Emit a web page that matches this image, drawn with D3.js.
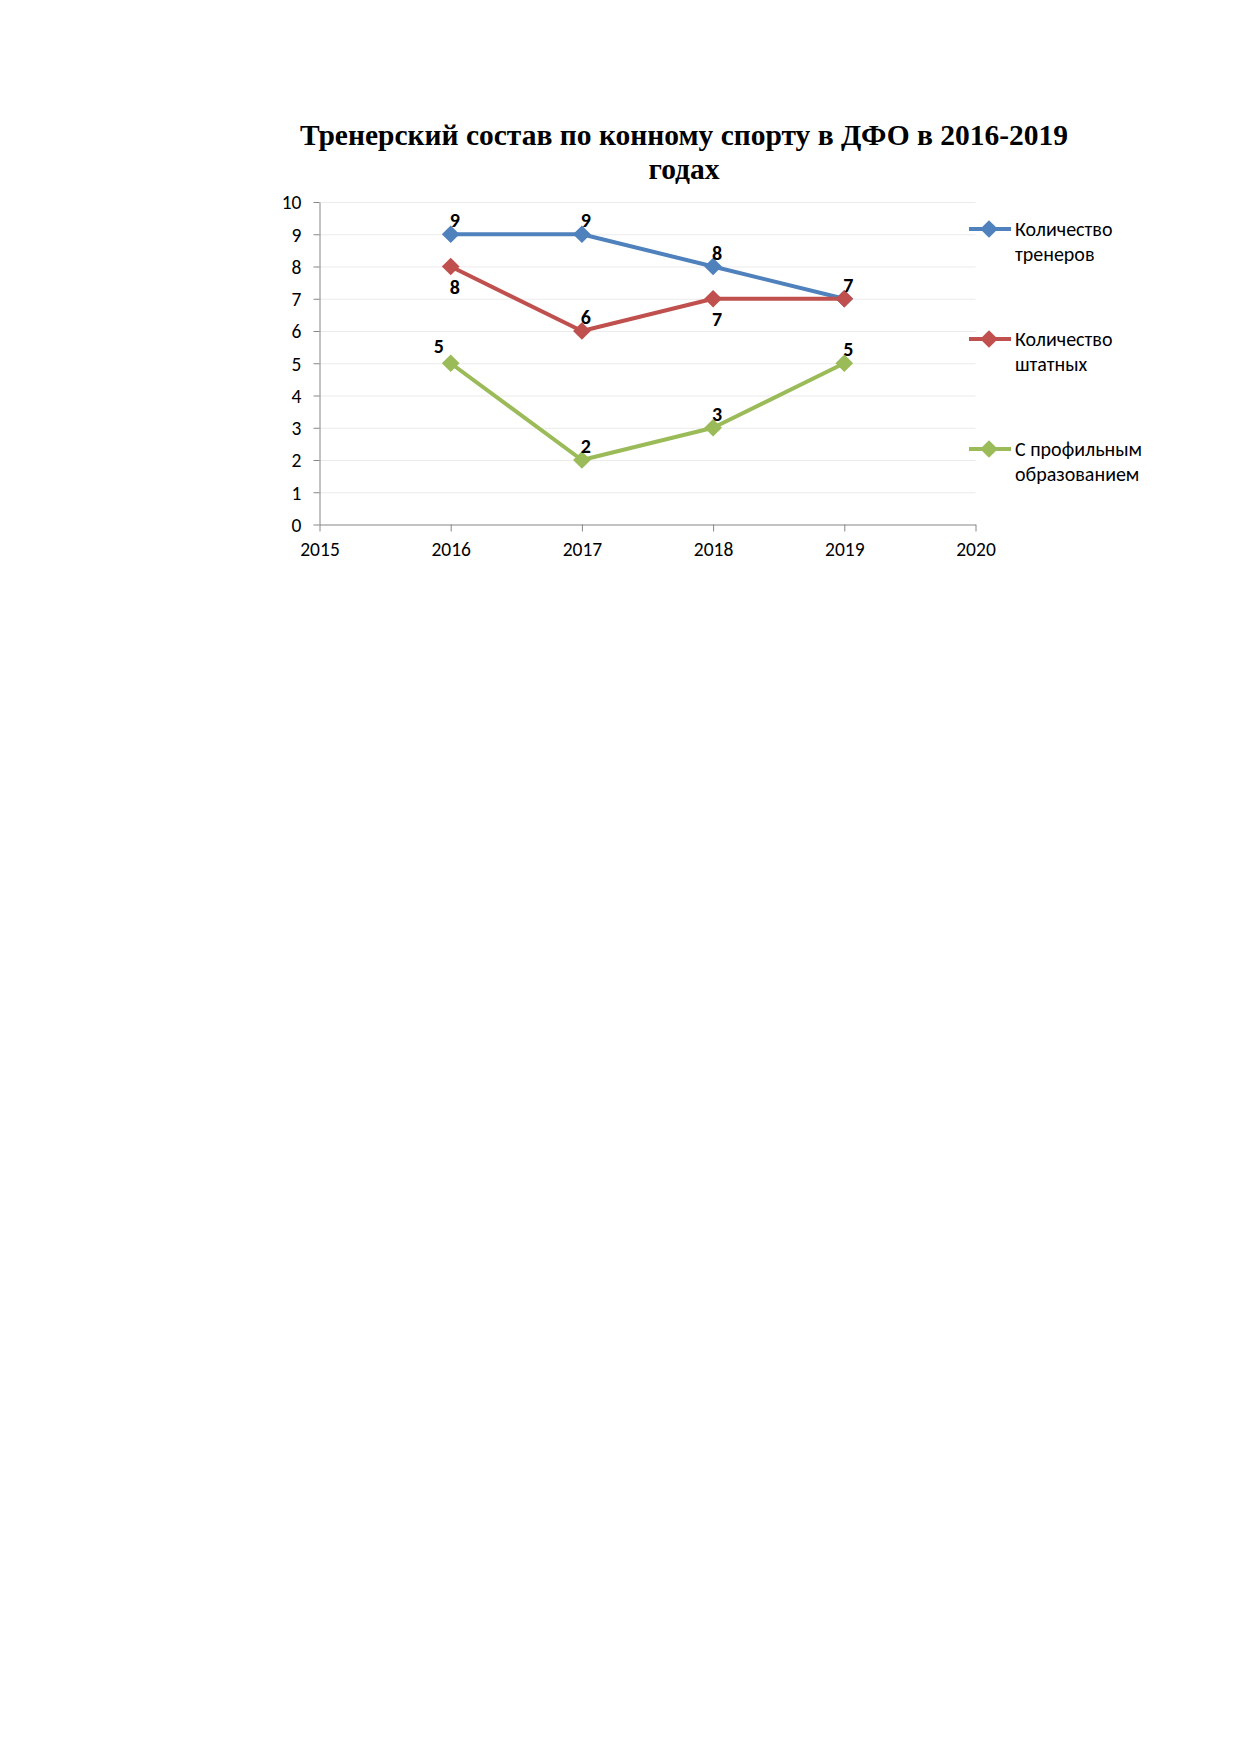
<!DOCTYPE html>
<meta charset="utf-8">
<style>
body { margin: 0; background: #fff; }
.axis path, .axis line { stroke: #868686; }
.axis text { font-family: Carlito, Lato, sans-serif; font-size: 19.5px; fill: #000; }
.grid line { stroke: #ebebeb; }
.grid path { display: none; }
</style>
<html>
<body>
<div id="chart"></div>
<script src="https://d3js.org/d3.v7.min.js"></script>
<script>

// data
var years = [2016, 2017, 2018, 2019];
var trainers = [9, 9, 8, 7];
var staff = [8, 6, 7, 7];
var specialized = [5, 2, 3, 5];
var seriesNames = [["Количество", "тренеров"], ["Количество", "штатных"], ["С профильным", "образованием"]];
var yTicks = [0, 1, 2, 3, 4, 5, 6, 7, 8, 9, 10];
var xTicks = [2015, 2016, 2017, 2018, 2019, 2020];

var series = [
  {name: seriesNames[0], values: trainers, color: "#4F81BD", place: ["up", "up", "up", "up"]},
  {name: seriesNames[1], values: staff, color: "#C0504D", place: ["down", "up", "down", null]},
  {name: seriesNames[2], values: specialized, color: "#9BBB59", place: ["upleft", "up", "up", "up"]}
];

var svg = d3.select("#chart").append("svg")
  .attr("width", 1239)
  .attr("height", 1752);

var margin = {left: 319.5, top: 202, right: 975.5, bottom: 524.5};

var x = d3.scaleLinear().domain([2015, 2020]).range([margin.left, margin.right]);
var y = d3.scaleLinear().domain([0, 10]).range([margin.bottom, margin.top]);

// title
svg.append("text")
  .attr("x", 684).attr("y", 145)
  .attr("text-anchor", "middle")
  .style("font-family", "Liberation Serif, Times New Roman, serif")
  .style("font-weight", "bold")
  .style("font-size", "29.5px")
  .text("Тренерский состав по конному спорту в ДФО в 2016-2019");
svg.append("text")
  .attr("x", 684).attr("y", 179)
  .attr("text-anchor", "middle")
  .style("font-family", "Liberation Serif, Times New Roman, serif")
  .style("font-weight", "bold")
  .style("font-size", "29.5px")
  .text("годах");

// gridlines
svg.append("g")
  .attr("class", "grid")
  .attr("transform", "translate(" + margin.left + ",0)")
  .call(d3.axisRight(y).tickValues(yTicks.slice(1)).tickSize(margin.right - margin.left).tickFormat(""));

// y axis
svg.append("g")
  .attr("class", "axis")
  .attr("transform", "translate(" + margin.left + ",0)")
  .call(d3.axisLeft(y).tickValues(yTicks).tickSize(6).tickPadding(12).tickSizeOuter(0))
  .selectAll("text").attr("dy", "0.35em");

// x axis
svg.append("g")
  .attr("class", "axis")
  .attr("transform", "translate(0," + margin.bottom + ")")
  .call(d3.axisBottom(x).tickValues(xTicks).tickFormat(d3.format("d")).tickSize(7).tickPadding(11).tickSizeOuter(0));

var line = d3.line()
  .x(function(d, i) { return x(years[i]); })
  .y(function(d) { return y(d); });

var diamond = d3.symbol().type(d3.symbolDiamond2).size(200);

var offsets = {
  up: [4, -14],
  down: [4, 20],
  upleft: [-12, -17]
};

series.forEach(function(s) {
  svg.append("path")
    .datum(s.values)
    .attr("d", line)
    .attr("fill", "none")
    .attr("stroke", s.color)
    .attr("stroke-width", 4)
    .attr("stroke-linejoin", "round");
});

series.forEach(function(s) {
  svg.selectAll(null)
    .data(s.values)
    .enter()
    .append("path")
      .attr("d", diamond)
      .attr("transform", function(d, i) { return "translate(" + x(years[i]) + "," + y(d) + ")"; })
      .attr("fill", s.color);
});

series.forEach(function(s) {
  svg.selectAll(null)
    .data(s.values)
    .enter()
    .filter(function(d, i) { return s.place[i]; })
    .append("text")
      .attr("x", function(d, i) { return x(years[i]) + offsets[s.place[i]][0]; })
      .attr("y", function(d, i) { return y(d) + offsets[s.place[i]][1]; })
      .attr("dy", "0.35em")
      .attr("text-anchor", "middle")
      .style("font-family", "Carlito, Lato, sans-serif")
      .style("font-weight", "bold")
      .style("font-size", "20px")
      .text(function(d) { return d; });
});

// legend
var legend = svg.append("g").selectAll("g")
  .data(series)
  .enter()
  .append("g")
    .attr("transform", function(d, i) { return "translate(969," + (229 + i * 110) + ")"; });

legend.append("line")
  .attr("x1", 0).attr("x2", 42)
  .attr("stroke", function(d) { return d.color; })
  .attr("stroke-width", 4);
legend.append("path")
  .attr("d", diamond)
  .attr("transform", "translate(20,0)")
  .attr("fill", function(d) { return d.color; });
legend.append("text")
  .style("font-family", "Carlito, Lato, sans-serif")
  .style("font-size", "20px")
  .selectAll("tspan")
  .data(function(d) { return d.name; })
  .enter()
  .append("tspan")
    .attr("x", 46)
    .attr("y", function(d, i) { return i * 25; })
    .attr("dy", "0.35em")
    .text(function(d) { return d; });

</script>
</body>
</html>
